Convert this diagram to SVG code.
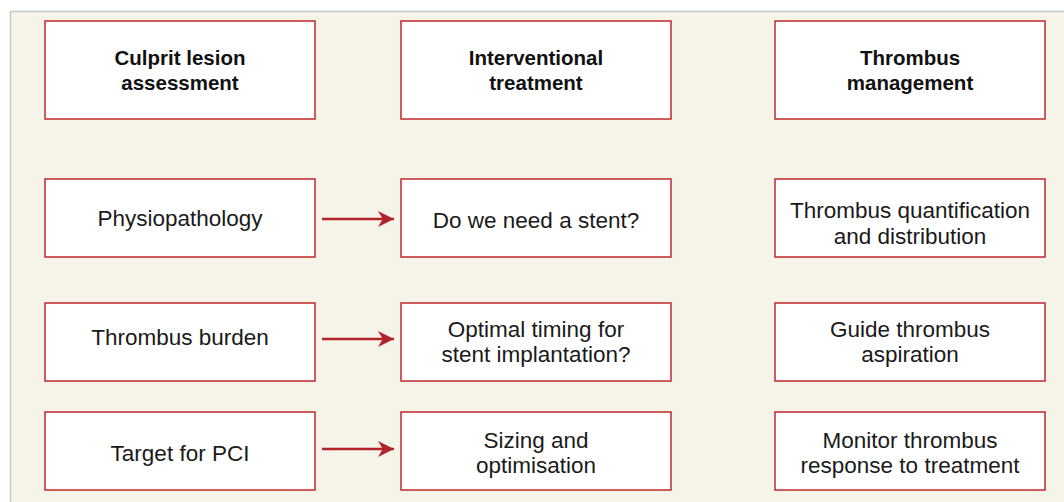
<svg xmlns="http://www.w3.org/2000/svg" width="1064" height="502" viewBox="0 0 1064 502">
<defs>
<style>
.bg{fill:#f6f3e9;stroke:#c8c8c8;stroke-width:1.5}
.box{fill:#ffffff;stroke:#c0282d;stroke-width:1.5}
.t{font-family:"Liberation Sans",Arial,sans-serif;font-size:22.5px;fill:#1a1a1a;text-anchor:middle}
.h{font-weight:bold;font-size:20.5px;fill:#111111}
.arr{stroke:#b0232a;stroke-width:2.5;fill:none}
</style>
<marker id="ah" viewBox="0 0 10 10" refX="10" refY="5" markerWidth="20" markerHeight="16" markerUnits="userSpaceOnUse" orient="auto">
<path d="M0,0 L10,5 L0,10 L3,5 Z" fill="#b0232a"/>
</marker>
</defs>
<rect x="0" y="0" width="1064" height="502" fill="#ffffff"/>
<rect class="bg" x="10.5" y="11.5" width="1060" height="500"/>
<g id="n-culprit"><rect class="box" x="45" y="21" width="270" height="98"/><text class="t h" x="180" y="65">Culprit lesion</text><text class="t h" x="180" y="90">assessment</text></g>
<g id="n-interventional"><rect class="box" x="401" y="21" width="270" height="98"/><text class="t h" x="536" y="65">Interventional</text><text class="t h" x="536" y="90">treatment</text></g>
<g id="n-thrombus"><rect class="box" x="775" y="21" width="270" height="98"/><text class="t h" x="910" y="65">Thrombus</text><text class="t h" x="910" y="90">management</text></g>
<g id="n-physio"><rect class="box" x="45" y="179" width="270" height="78"/><text class="t" x="180" y="226">Physiopathology</text></g>
<g id="n-stent"><rect class="box" x="401" y="179" width="270" height="78"/><text class="t" x="536" y="228">Do we need a stent?</text></g>
<g id="n-quant"><rect class="box" x="775" y="179" width="270" height="78"/><text class="t" x="910" y="218">Thrombus quantification</text><text class="t" x="910" y="244">and distribution</text></g>
<g id="n-burden"><rect class="box" x="45" y="303" width="270" height="78"/><text class="t" x="180" y="345">Thrombus burden</text></g>
<g id="n-timing"><rect class="box" x="401" y="303" width="270" height="78"/><text class="t" x="536" y="337">Optimal timing for</text><text class="t" x="536" y="362">stent implantation?</text></g>
<g id="n-aspiration"><rect class="box" x="775" y="303" width="270" height="78"/><text class="t" x="910" y="337">Guide thrombus</text><text class="t" x="910" y="362">aspiration</text></g>
<g id="n-target"><rect class="box" x="45" y="412" width="270" height="78"/><text class="t" x="180" y="461">Target for PCI</text></g>
<g id="n-sizing"><rect class="box" x="401" y="412" width="270" height="78"/><text class="t" x="536" y="448">Sizing and</text><text class="t" x="536" y="473">optimisation</text></g>
<g id="n-monitor"><rect class="box" x="775" y="412" width="270" height="78"/><text class="t" x="910" y="448">Monitor thrombus</text><text class="t" x="910" y="473">response to treatment</text></g>
<g id="connectors">
<line class="arr" x1="322" y1="219" x2="394" y2="219" marker-end="url(#ah)"/>
<line class="arr" x1="322" y1="339" x2="394" y2="339" marker-end="url(#ah)"/>
<line class="arr" x1="322" y1="449" x2="394" y2="449" marker-end="url(#ah)"/>
</g>
</svg>
